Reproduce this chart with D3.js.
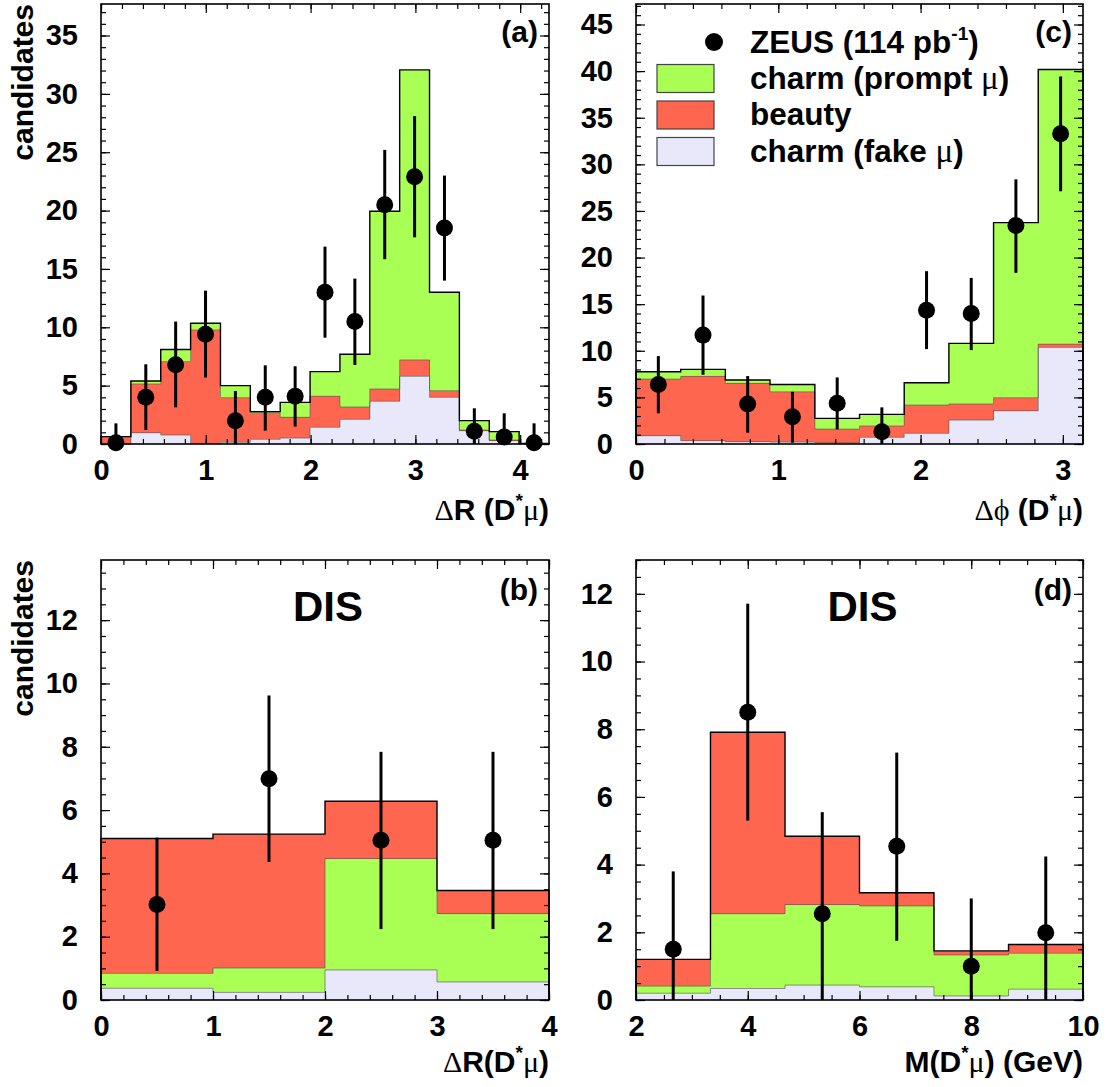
<!DOCTYPE html>
<html><head><meta charset="utf-8">
<script src="https://cdn.jsdelivr.net/npm/d3@7"></script>
<style>
body{margin:0;background:#fff}
svg{display:block}
text{font-family:'Liberation Sans',Arial,Helvetica,sans-serif;font-weight:bold;fill:#000}
.tick text{font-family:'Liberation Sans',Arial,sans-serif;font-weight:bold;font-size:29px}
.sym{font-family:'Liberation Serif','DejaVu Serif',serif;font-weight:normal}
</style>
</head><body>
<svg id="chart" width="1106" height="1087"></svg>
<script>
// ---------- DATA ----------
// panel (a): Delta R (D* mu), all events
const aEdges = [0,0.285,0.57,0.855,1.14,1.425,1.71,1.995,2.28,2.565,2.85,3.135,3.42,3.705,3.99,4.275];
const aFake   = [0,0.97,0.77,0.05,0.14,0.40,0.51,1.43,2.11,3.66,5.80,4.00,1.14,0.29,0.02];
const aBeauty = [0.63,4.17,6.29,9.72,3.83,2.29,1.78,2.66,1.06,1.05,1.40,0.57,0.06,0.05,0.00];
const aPrompt = [0.00,0.26,1.04,0.57,1.03,0.08,1.28,2.11,4.52,15.23,24.86,8.43,0.80,0.72,0.03];
const aData   = [0.1,4.0,6.8,9.4,2.0,4.0,4.1,13.0,10.5,20.5,22.9,18.5,1.1,0.6,0.1];
const aHi     = [1.77,6.83,10.49,13.14,4.54,6.74,6.66,16.91,14.17,25.2,28.1,23.0,3.06,2.63,1.77];
const aLo     = [0,1.2,3.14,5.69,0,1.14,1.49,9.11,6.77,15.83,17.71,14.0,0,0,0];

// panel (c): Delta phi (D* mu), all events
const cEdges = [0,0.314,0.628,0.942,1.257,1.571,1.885,2.199,2.513,2.827,3.1416];
const cFake   = [0.89,0.36,0.25,0.20,0.14,0.71,1.14,2.57,3.57,10.36];
const cBeauty = [6.07,6.89,6.25,5.40,1.46,1.22,3.04,1.72,1.39,0.35];
const cPrompt = [0.79,0.75,0.36,0.79,1.15,1.25,2.39,6.50,18.79,29.47];
const cData   = [6.39,11.68,4.29,2.93,4.36,1.32,14.36,14.0,23.43,33.29];
const cHi     = [9.43,15.93,7.29,5.6,7.14,3.93,18.54,17.82,28.39,39.43];
const cLo     = [3.29,7.43,1.21,0.14,1.57,0,10.18,10.07,18.36,27.11];

// panel (b): Delta R (D* mu), DIS
const bEdges = [0,1,2,3,4];
const bFake   = [0.37,0.24,0.95,0.57];
const bPrompt = [0.47,0.77,3.52,2.16];
const bBeauty = [4.26,4.23,1.81,0.73];
const bData   = [3.02,6.99,5.05,5.05];
const bHi     = [5.13,9.62,7.84,7.84];
const bLo     = [0.92,4.36,2.24,2.24];

// panel (d): M(D* mu), DIS
const dEdges = [2,3.333,4.667,6,7.333,8.667,10];
const dFake   = [0.20,0.34,0.44,0.39,0.12,0.32];
const dPrompt = [0.21,2.21,2.38,2.39,1.21,1.06];
const dBeauty = [0.79,5.36,2.02,0.39,0.12,0.26];
const dData   = [1.5,8.5,2.55,4.54,1.0,1.99];
const dHi     = [3.8,11.71,5.55,7.31,3.0,4.24];
const dLo     = [0,5.3,0,1.75,0,0];

const legendLabels = ['ZEUS (114 pb', 'charm (prompt ', 'beauty', 'charm (fake '];

// ---------- STYLE ----------
const COLORS = {prompt:'#aaff55', beauty:'#ff664f', fake:'#e8e8fa'};
const svg = d3.select('#chart');

const panels = [
  {id:'a', box:[101,549,4,444], xdom:[0,4.275], ydom:[0,37.7], edges:aEdges, fake:aFake, beauty:aBeauty, prompt:aPrompt,
   data:aData, hi:aHi, lo:aLo, order:['fake','beauty','prompt'], xMaj:[0,1,2,3,4], xMinStep:0.2, yMajStep:5, yMinStep:1, ylab:true},
  {id:'c', box:[636,1083,4,444], xdom:[0,Math.PI], ydom:[0,47.2], edges:cEdges, fake:cFake, beauty:cBeauty, prompt:cPrompt,
   data:cData, hi:cHi, lo:cLo, order:['fake','beauty','prompt'], xMaj:[0,1,2,3], xMinStep:0.2, yMajStep:5, yMinStep:1, ylab:false},
  {id:'b', box:[101,549,560,1000], xdom:[0,4], ydom:[0,13.9], edges:bEdges, fake:bFake, beauty:bBeauty, prompt:bPrompt,
   data:bData, hi:bHi, lo:bLo, order:['fake','prompt','beauty'], xMaj:[0,1,2,3,4], xMinStep:0.2, yMajStep:2, yMinStep:0.5, ylab:true, dis:true},
  {id:'d', box:[636,1083,560,1000], xdom:[2,10], ydom:[0,13], edges:dEdges, fake:dFake, beauty:dBeauty, prompt:dPrompt,
   data:dData, hi:dHi, lo:dLo, order:['fake','prompt','beauty'], xMaj:[2,4,6,8,10], xMinStep:0.5, yMajStep:2, yMinStep:0.5, ylab:false, dis:true}
];

function rangeStep(a, b, s){ const out=[]; for(let v=a; v<=b+1e-9; v+=s) out.push(+v.toFixed(6)); return out; }

panels.forEach(p => {
  const [x0,x1,y0,y1] = p.box;
  const x = d3.scaleLinear().domain(p.xdom).range([x0,x1]);
  const y = d3.scaleLinear().domain(p.ydom).range([y1,y0]);
  const g = svg.append('g');
  const n = p.edges.length-1;
  const rows = d3.range(n).map(i => ({lo:p.edges[i], hi:p.edges[i+1], fake:p.fake[i], beauty:p.beauty[i], prompt:p.prompt[i]}));
  const layers = d3.stack().keys(p.order)(rows);

  layers.forEach(layer => {
    g.append('g').selectAll('rect').data(layer).enter().append('rect')
      .attr('x', d => x(d.data.lo)).attr('width', d => x(d.data.hi)-x(d.data.lo))
      .attr('y', d => y(d[1])).attr('height', d => Math.max(0, y(d[0])-y(d[1])))
      .attr('fill', COLORS[layer.key]).attr('shape-rendering','crispEdges');
  });
  layers.forEach((layer, li) => {
    const isTop = li === layers.length-1;
    const pts = [[x(p.edges[0]), y(0)]];
    layer.forEach(d => { pts.push([x(d.data.lo), y(d[1])]); pts.push([x(d.data.hi), y(d[1])]); });
    pts.push([x(p.edges[n]), y(0)]);
    g.append('path').attr('d', d3.line()(pts)).attr('fill','none')
      .attr('stroke', isTop ? '#000' : '#555').attr('stroke-width', isTop ? 1.4 : 0.9)
      .attr('stroke-opacity', isTop ? 1 : 0.7);
  });

  // data points
  const centers = d3.range(n).map(i => (p.edges[i]+p.edges[i+1])/2);
  g.append('g').selectAll('line').data(centers).enter().append('line')
    .attr('x1', d => x(d)).attr('x2', d => x(d))
    .attr('y1', (d,i) => y(Math.max(p.ydom[0], p.lo[i]))).attr('y2', (d,i) => y(p.hi[i]))
    .attr('stroke','#000').attr('stroke-width',3);
  g.append('g').selectAll('circle').data(centers).enter().append('circle')
    .attr('cx', d => x(d)).attr('cy', (d,i) => y(p.data[i])).attr('r', 8.5).attr('fill','#000');

  // axes
  const yMaj = rangeStep(p.ydom[0], p.ydom[1], p.yMajStep);
  const yMin = rangeStep(p.ydom[0], p.ydom[1], p.yMinStep);
  const xMin = rangeStep(p.xdom[0], p.xdom[1], p.xMinStep);
  const clean = s => s.call(a => a.select('.domain').remove());
  const ax = svg.append('g');
  ax.append('g').attr('transform',`translate(${x0},0)`).call(d3.axisLeft(y).tickValues(yMaj).tickSize(-9).tickPadding(23).tickFormat(d3.format('d'))).call(clean);
  ax.append('g').attr('transform',`translate(${x0},0)`).call(d3.axisLeft(y).tickValues(yMin).tickSize(-5).tickFormat('')).call(clean);
  ax.append('g').attr('transform',`translate(${x1},0)`).call(d3.axisRight(y).tickValues(yMaj).tickSize(-9).tickFormat('')).call(clean);
  ax.append('g').attr('transform',`translate(${x1},0)`).call(d3.axisRight(y).tickValues(yMin).tickSize(-5).tickFormat('')).call(clean);
  ax.append('g').attr('transform',`translate(0,${y1})`).call(d3.axisBottom(x).tickValues(p.xMaj).tickSize(-9).tickPadding(15).tickFormat(d3.format('d'))).call(clean);
  ax.append('g').attr('transform',`translate(0,${y1})`).call(d3.axisBottom(x).tickValues(xMin).tickSize(-5).tickFormat('')).call(clean);
  ax.append('g').attr('transform',`translate(0,${y0})`).call(d3.axisTop(x).tickValues(p.xMaj).tickSize(-9).tickFormat('')).call(clean);
  ax.append('g').attr('transform',`translate(0,${y0})`).call(d3.axisTop(x).tickValues(xMin).tickSize(-5).tickFormat('')).call(clean);
  ax.selectAll('.tick line').attr('stroke','#000').attr('stroke-width',1.2);
  ax.selectAll('.tick text').attr('fill','#000');

  svg.append('rect').attr('x',x0).attr('y',y0).attr('width',x1-x0).attr('height',y1-y0)
    .attr('fill','none').attr('stroke','#000').attr('stroke-width',1.6);

  // panel tag
  svg.append('text').attr('x', x1-11).attr('y', y0 + (p.dis ? 40 : 38)).attr('text-anchor','end')
    .attr('font-size',30).text(`(${p.id})`);
  if (p.dis) {
    svg.append('text').attr('x', (x0+x1)/2+3).attr('y', y0+61).attr('text-anchor','middle')
      .attr('font-size',42).text('DIS');
  }
  if (p.ylab) {
    svg.append('text').attr('transform',`translate(33,${y0}) rotate(-90)`).attr('text-anchor','end')
      .attr('font-size',30).text('candidates');
  }
});

// axis titles
function title(xr, yb, parts){
  const t = svg.append('text').attr('x', xr).attr('y', yb).attr('text-anchor','end').attr('font-size',30);
  parts.forEach(pt => {
    const s = t.append('tspan').text(pt.t);
    if (pt.sym) s.attr('class','sym');
    if (pt.size) s.attr('font-size', pt.size);
    if (pt.dy) s.attr('dy', pt.dy);
  });
}
title(549, 520, [{t:'Δ',sym:1},{t:'R (D'},{t:'*',size:19,dy:-13},{t:'μ',sym:1,dy:13},{t:')'}]);
title(1083, 520, [{t:'Δϕ',sym:1},{t:' (D'},{t:'*',size:19,dy:-13},{t:'μ',sym:1,dy:13},{t:')'}]);
title(549, 1072, [{t:'Δ',sym:1},{t:'R(D'},{t:'*',size:19,dy:-13},{t:'μ',sym:1,dy:13},{t:')'}]);
title(1083, 1072, [{t:'M(D'},{t:'*',size:19,dy:-13},{t:'μ',sym:1,dy:13},{t:') (GeV)'}]);

// legend in panel (c)
const lg = svg.append('g');
lg.append('circle').attr('cx',714).attr('cy',42).attr('r',9).attr('fill','#000');
const t0 = lg.append('text').attr('x',750).attr('y',53).attr('font-size',31.5);
t0.append('tspan').text(legendLabels[0]);
t0.append('tspan').attr('font-size',19).attr('dy',-13).text('-1');
t0.append('tspan').attr('dy',13).text(')');
const boxKeys = ['prompt','beauty','fake'];
const boxTop = [64.5,101,137.5];
const base = [89,125,162];
boxKeys.forEach((k,i) => {
  lg.append('rect').attr('x',657).attr('y',boxTop[i]).attr('width',57).attr('height',28)
    .attr('fill',COLORS[k]).attr('stroke','#444').attr('stroke-width',1.2);
  const t = lg.append('text').attr('x',750).attr('y',base[i]).attr('font-size',31.5);
  t.append('tspan').text(legendLabels[i+1]);
  if (i !== 1) { t.append('tspan').attr('class','sym').attr('font-size',33).text('μ'); t.append('tspan').text(')'); }
});
</script>
</body></html>
